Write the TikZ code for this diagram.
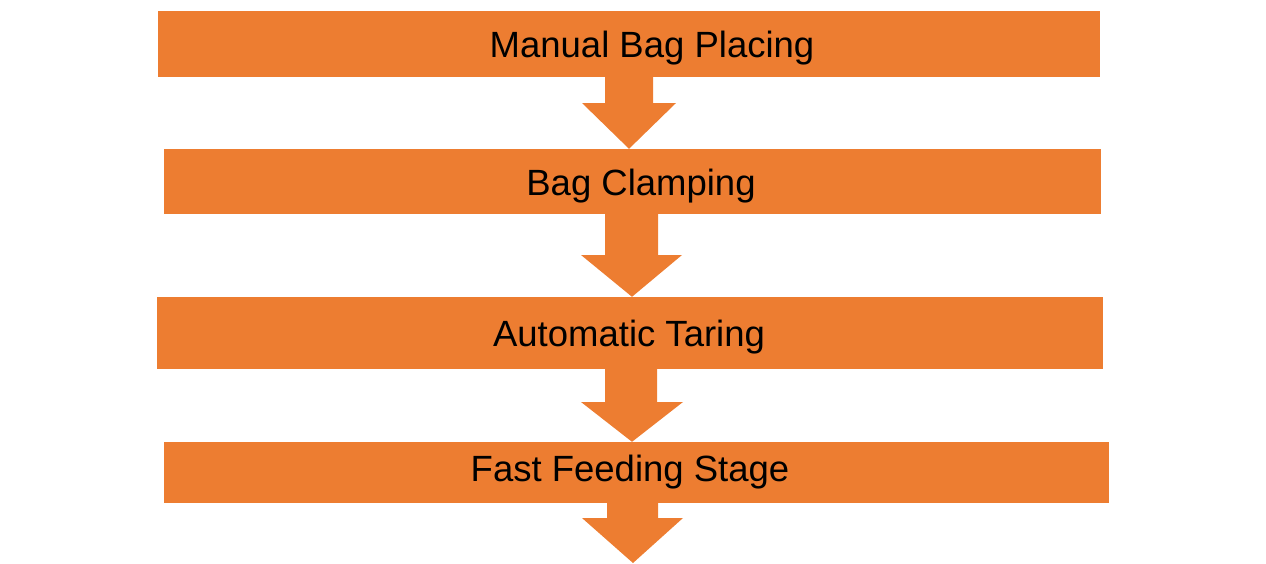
\documentclass[tikz,border=0pt]{standalone}
\usepackage{fontspec}
\setmainfont{Liberation Sans}
\definecolor{boxorange}{HTML}{ED7D31}
\begin{document}
\begin{tikzpicture}[x=1pt,y=-1pt,
  stagebox/.style={fill=boxorange,draw=none,inner sep=0pt,anchor=center},
  stagelabel/.style={anchor=base,inner sep=0pt,text=black,font=\fontsize{36.5}{40}\selectfont},
  blockarrow/.style={fill=boxorange,draw=none}]
\useasboundingbox (0,0) rectangle (1266,563);
% boxes
\node[stagebox,minimum width=942pt,minimum height=66pt] (b1) at (629,44) {};
\node[stagebox,minimum width=937pt,minimum height=65pt] (b2) at (632.5,181.5) {};
\node[stagebox,minimum width=946pt,minimum height=72pt] (b3) at (630,333) {};
\node[stagebox,minimum width=945pt,minimum height=61pt] (b4) at (636.5,472.5) {};
% labels
\node[stagelabel] (t1) at (652,57) {Manual Bag Placing};
\node[stagelabel] (t2) at (641,195) {Bag Clamping};
\node[stagelabel] (t3) at (629,346) {Automatic Taring};
\node[stagelabel] (t4) at (630,481) {Fast Feeding Stage};
% arrows
\coordinate (end) at (633,563);
\fill[blockarrow] (605,0 |- b1.south) -- (653,0 |- b1.south) -- (653,103) -- (676,103)
  -- (629,0 |- b2.north) -- (582,103) -- (605,103) -- cycle;
\fill[blockarrow] (605,0 |- b2.south) -- (658,0 |- b2.south) -- (658,255) -- (682,255)
  -- (632,0 |- b3.north) -- (581,255) -- (605,255) -- cycle;
\fill[blockarrow] (605,0 |- b3.south) -- (657,0 |- b3.south) -- (657,402) -- (683,402)
  -- (632,0 |- b4.north) -- (581,402) -- (605,402) -- cycle;
\fill[blockarrow] (607,0 |- b4.south) -- (658,0 |- b4.south) -- (658,518) -- (683,518)
  -- (end) -- (582,518) -- (607,518) -- cycle;
\end{tikzpicture}
\end{document}
